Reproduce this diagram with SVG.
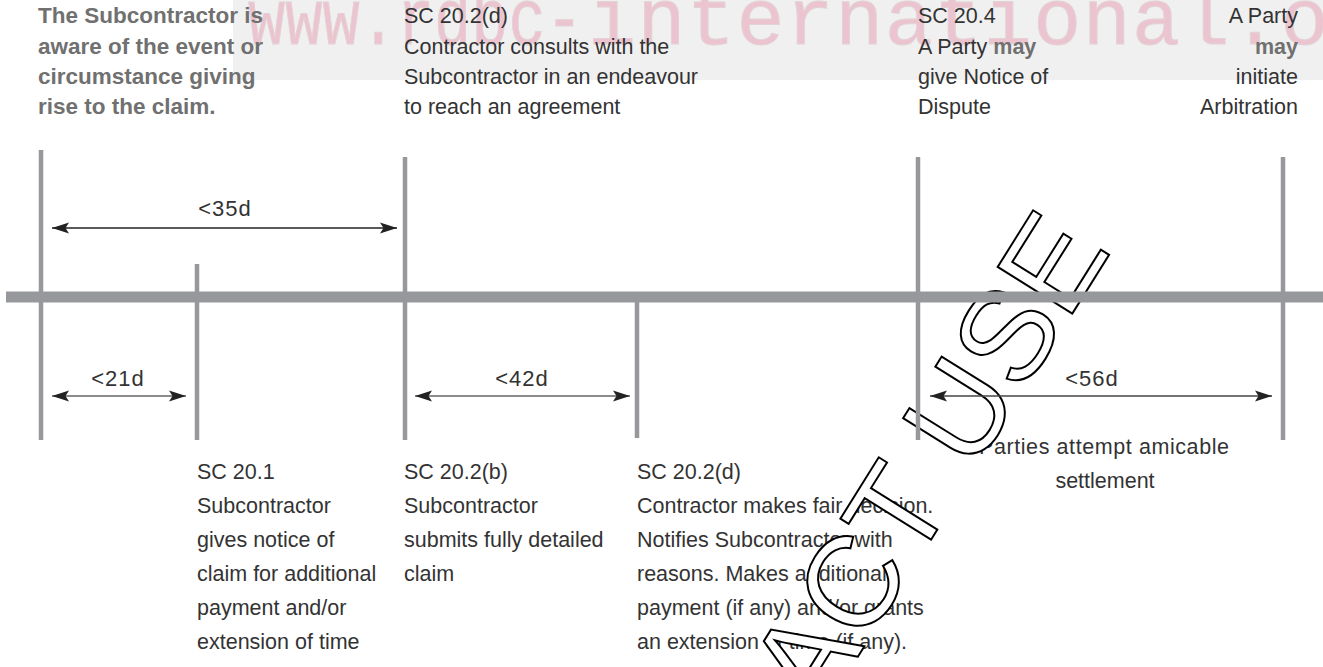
<svg xmlns="http://www.w3.org/2000/svg" width="1323" height="667" viewBox="0 0 1323 667">
<defs>
<style>
.t{font-family:"Liberation Sans",Arial,sans-serif;font-size:21.5px;fill:#333}
.b{font-family:"Liberation Sans",Arial,sans-serif;font-size:22.5px;font-weight:bold;fill:#707070}
.bi{font-weight:bold;fill:#707070}
.lbl{font-family:"Liberation Sans",Arial,sans-serif;font-size:22px;fill:#333;text-anchor:middle;letter-spacing:1px}
.v{stroke:#97989b;stroke-width:4.5;fill:none}
.bar{stroke:#97989b;stroke-width:11;fill:none}
.a{stroke-width:1.6;fill:none;marker-start:url(#ah);marker-end:url(#ah)}
.wm{font-family:"Liberation Mono","Courier New",monospace;font-size:80px;fill:#ecc4cf;stroke:#e2d2d6;stroke-width:1}
.cu{font-family:"Liberation Sans",Arial,sans-serif;font-size:128px;fill:#fff;stroke:#000;stroke-width:2}
</style>
<marker id="ah" markerUnits="userSpaceOnUse" markerWidth="17" markerHeight="12" refX="17" refY="6" orient="auto-start-reverse">
<path d="M0,0.5 L17,6 L0,11.5 L3.5,6 Z" fill="#222"/>
</marker>
</defs>
<rect width="1323" height="667" fill="#fff"/>
<g id="band">
<rect x="233" y="0" width="1090" height="80" fill="#f0f0f0"/>
<text class="wm" x="248" y="44" textLength="335" lengthAdjust="spacingAndGlyphs">www.rdbc-</text>
<text class="wm" x="588" y="44" textLength="790" lengthAdjust="spacing">international.or</text>
</g>
<g id="n-top-aware">
<text class="b" x="38" y="23">The Subcontractor is</text>
<text class="b" x="38" y="53.5">aware of the event or</text>
<text class="b" x="38" y="84">circumstance giving</text>
<text class="b" x="38" y="114">rise to the claim.</text>
</g>
<g id="n-top-consult">
<text class="t" x="404" y="23">SC 20.2(d)</text>
<text class="t" x="404" y="53.5">Contractor consults with the</text>
<text class="t" x="404" y="84">Subcontractor in an endeavour</text>
<text class="t" x="404" y="114">to reach an agreement</text>
</g>
<g id="n-top-dispute">
<text class="t" x="918" y="23">SC 20.4</text>
<text class="t" x="918" y="53.5">A Party <tspan class="bi">may</tspan></text>
<text class="t" x="918" y="84">give Notice of</text>
<text class="t" x="918" y="114">Dispute</text>
</g>
<g id="n-top-arbitration" text-anchor="end">
<text class="t" x="1298" y="23">A Party</text>
<text class="t" x="1298" y="53.5"><tspan class="bi">may</tspan></text>
<text class="t" x="1298" y="84">initiate</text>
<text class="t" x="1298" y="114">Arbitration</text>
</g>
<g id="n-bot-notice">
<text class="t" x="197" y="479">SC 20.1</text>
<text class="t" x="197" y="513">Subcontractor</text>
<text class="t" x="197" y="547">gives notice of</text>
<text class="t" x="197" y="581">claim for additional</text>
<text class="t" x="197" y="615">payment and/or</text>
<text class="t" x="197" y="649">extension of time</text>
</g>
<g id="n-bot-claim">
<text class="t" x="404" y="479">SC 20.2(b)</text>
<text class="t" x="404" y="513">Subcontractor</text>
<text class="t" x="404" y="547">submits fully detailed</text>
<text class="t" x="404" y="581">claim</text>
</g>
<g id="n-bot-decision">
<text class="t" x="637" y="479">SC 20.2(d)</text>
<text class="t" x="637" y="513">Contractor makes fair decision.</text>
<text class="t" x="637" y="547">Notifies Subcontractor with</text>
<text class="t" x="637" y="581">reasons. Makes additional</text>
<text class="t" x="637" y="615">payment (if any) and/or grants</text>
<text class="t" x="637" y="649">an extension of time (if any).</text>
</g>
<g id="n-bot-amicable">
<text class="t" x="979" y="454" textLength="250">Parties attempt amicable</text>
<text class="t" x="1105" y="488" text-anchor="middle">settlement</text>
</g>
<g id="stamp">
<text class="cu" transform="translate(1112,250) rotate(-58)" text-anchor="end">CONTRACT USE</text>
</g>
<g id="timeline">
<line class="bar" x1="6" y1="297" x2="1323" y2="297"/>
<line class="v" x1="41" y1="150" x2="41" y2="440"/>
<line class="v" x1="197" y1="264" x2="197" y2="440"/>
<line class="v" x1="405" y1="157" x2="405" y2="440"/>
<line class="v" x1="637" y1="297" x2="637" y2="438"/>
<line class="v" x1="918" y1="157" x2="918" y2="440"/>
<line class="v" x1="1283" y1="157" x2="1283" y2="440"/>
</g>
<g id="connectors">
<line class="a" x1="52" y1="228" x2="397" y2="228" stroke="#222"/>
<line class="a" x1="52" y1="396" x2="186" y2="396" stroke="#666"/>
<line class="a" x1="415" y1="396" x2="630" y2="396" stroke="#666"/>
<line class="a" x1="930" y1="396" x2="1272" y2="396" stroke="#444"/>
</g>
<g id="labels">
<text class="lbl" x="225" y="216">&lt;35d</text>
<text class="lbl" x="118" y="386">&lt;21d</text>
<text class="lbl" x="522" y="386">&lt;42d</text>
<text class="lbl" x="1092" y="386">&lt;56d</text>
</g>
</svg>
